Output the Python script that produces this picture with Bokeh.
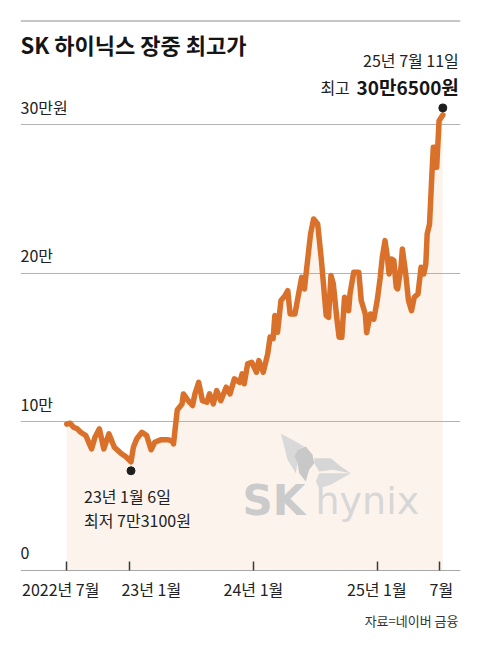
import pandas as pd
from bokeh.plotting import figure
from bokeh.models import (Range1d, FixedTicker, Label, Span, PolyAnnotation,
                          ColumnDataSource)
from bokeh.embed import file_html
from bokeh.resources import INLINE

# ---- data (price in 만원) ----
dates = [
    "2022-07-01", "2022-07-11", "2022-07-21", "2022-08-01", "2022-08-11", "2022-08-26",
    "2022-09-12", "2022-09-22", "2022-10-05", "2022-10-18", "2022-11-02", "2022-11-18",
    "2022-12-09", "2022-12-22", "2023-01-06", "2023-01-13", "2023-01-23", "2023-02-07",
    "2023-02-21", "2023-03-06", "2023-03-17", "2023-04-03", "2023-04-26", "2023-05-08",
    "2023-05-11", "2023-05-22", "2023-06-05", "2023-06-09", "2023-06-23", "2023-07-06",
    "2023-07-13", "2023-07-24", "2023-08-04", "2023-08-17", "2023-08-25", "2023-09-05",
    "2023-09-15", "2023-09-27", "2023-10-13", "2023-10-24", "2023-11-06", "2023-11-22",
    "2023-11-29", "2023-12-05", "2023-12-15", "2023-12-27", "2024-01-10", "2024-01-17",
    "2024-01-30", "2024-02-12", "2024-02-19", "2024-02-28", "2024-03-04", "2024-03-12",
    "2024-03-22", "2024-04-03", "2024-04-11", "2024-04-18", "2024-05-02", "2024-05-13",
    "2024-05-22", "2024-05-30", "2024-06-06", "2024-06-17", "2024-06-26", "2024-07-08",
    "2024-07-19", "2024-08-02", "2024-08-09", "2024-08-16", "2024-08-23", "2024-09-02",
    "2024-09-09", "2024-09-17", "2024-09-25", "2024-10-07", "2024-10-11", "2024-10-22",
    "2024-11-06", "2024-11-13", "2024-11-25", "2024-11-29", "2024-12-10", "2024-12-20",
    "2024-12-30", "2025-01-08", "2025-01-14", "2025-01-22", "2025-01-29", "2025-02-03",
    "2025-02-10", "2025-02-17", "2025-02-24", "2025-02-28", "2025-03-10", "2025-03-14",
    "2025-03-24", "2025-04-01", "2025-04-10", "2025-04-18", "2025-04-29", "2025-05-08",
    "2025-05-16", "2025-05-22", "2025-05-26", "2025-06-02", "2025-06-09", "2025-06-13",
    "2025-06-20", "2025-06-23", "2025-06-30", "2025-07-11",
]
values = [
    9.85, 9.91, 9.64, 9.53, 9.30, 9.08,
    8.18, 8.96, 9.53, 8.18, 9.19, 8.29,
    7.85, 7.65, 7.31, 8.29, 8.86, 9.30,
    9.08, 8.12, 8.63, 8.79, 8.79, 8.70,
    8.52, 10.80, 11.20, 11.88, 11.43, 11.10,
    11.88, 12.66, 11.43, 11.32, 11.88, 11.21,
    12.10, 11.43, 12.33, 11.88, 12.89, 12.66,
    13.23, 12.56, 13.90, 14.01, 13.34, 14.12,
    13.34, 14.57, 15.70, 15.60, 17.15, 16.03,
    18.16, 18.49, 18.83, 17.26, 17.26, 18.61,
    19.72, 18.94, 20.40, 22.64, 23.65, 23.31,
    20.85, 17.15, 17.03, 19.84, 19.28, 17.03,
    15.69, 15.69, 18.38, 17.48, 18.61, 20.06,
    20.06, 18.16, 17.26, 16.00, 17.26, 16.90,
    18.16, 19.72, 21.07, 22.19, 21.07, 19.95,
    20.96, 20.85, 19.05, 18.94, 20.40, 21.63,
    19.95, 18.16, 17.48, 18.38, 18.61, 20.40,
    19.95, 20.63, 22.64, 23.31, 26.68, 28.47,
    28.47, 27.12, 30.26, 30.65,
]
low_date = "2023-01-06"
low_value = 7.31
high_date = "2025-07-11"
high_value = 30.65

y_ticks = [0, 10, 20, 30]
y_tick_labels = ["0", "10만", "20만", "30만원"]
x_ticks = ["2022-07-01", "2023-01-01", "2024-01-01", "2025-01-01", "2025-07-01"]
x_tick_labels = ["2022년 7월", "23년 1월", "24년 1월", "25년 1월", "7월"]

title_text = "SK 하이닉스 장중 최고가"
high_date_text = "25년 7월 11일"
high_prefix_text = "최고"
high_value_text = "30만6500원"
low_date_text = "23년 1월 6일"
low_value_text = "최저 7만3100원"
source_text = "자료=네이버 금융"

# ---- styling ----
FONT = "Noto Sans CJK KR"
LINE_COLOR = "#D9712A"
TEXT = "#222222"
FRAME_W, FRAME_H = 440, 616   # frame spans page y 20..636
BOTTOM = 636                  # frame bottom in page pixels


def ms(d):
    return pd.Timestamp(d).value / 1e6


def sy(page_y):
    return BOTTOM - page_y


src = ColumnDataSource(data=dict(x=pd.to_datetime(dates), y=values,
                                 zero=[0] * len(values)))

Y_START, Y_END = -4.44, 37.0
p = figure(frame_width=FRAME_W, frame_height=FRAME_H, x_axis_type="datetime",
           x_range=Range1d(pd.Timestamp("2022-02-15"), pd.Timestamp("2025-09-01")),
           y_range=Range1d(Y_START, Y_END), y_axis_location=None,
           output_backend="svg", toolbar_location=None,
           min_border_left=20, min_border_right=20,
           min_border_top=20, min_border_bottom=10)
p.outline_line_color = None
p.background_fill_color = "white"
p.border_fill_color = "white"

# shifted ranges so that the marker dots float off the line ends
p.extra_y_ranges = {
    "hi": Range1d(Y_START - 0.47, Y_END - 0.47),
    "lo": Range1d(Y_START + 0.6, Y_END + 0.6),
}

# grid
p.xgrid.visible = False
p.ygrid.ticker = FixedTicker(ticks=[t for t in y_ticks if t > 0])
p.ygrid.grid_line_color = "#B4B4B4"
p.ygrid.grid_line_width = 1

# x axis drawn at value 0 (ticks only; labels drawn as text below it)
xa = p.xaxis[0]
xa.fixed_location = 0
xa.ticker = FixedTicker(ticks=[ms(d) for d in x_ticks])
xa.major_label_text_font_size = "1px"
xa.major_label_text_color = None
xa.major_label_standoff = 0
xa.axis_line_color = "#A8A8A8"
xa.axis_line_width = 1
xa.major_tick_in = 9
xa.major_tick_out = 0
xa.major_tick_line_color = "#3a3a3a"
xa.major_tick_line_width = 1.5
xa.minor_tick_line_color = None

# top rule
p.add_layout(Span(location=Y_END, dimension="width", line_color="#8E8E8E",
                  line_width=2))

# area
p.varea(x="x", y1="zero", y2="y", source=src, fill_color="#E9A577",
        fill_alpha=0.13)

# watermark logo
for xs, ys, col in [
    ([280.3, 292, 303.7, 297, 293.7, 297, 295.3, 287, 283.7],
     [433.3, 439.3, 446, 449.3, 456, 462.7, 472.7, 459.3, 446], "#D9D9D9"),
    ([297, 305.3, 312, 313.7, 308.7, 305.3, 298.7, 297, 293.7],
     [449.3, 446, 454.3, 462.7, 469.3, 481, 472.7, 462.7, 456], "#C8C8C8"),
    ([313.7, 330.3, 340.3, 350.3, 332, 318.7, 313.7],
     [457.7, 457.7, 466, 472.7, 469.3, 471, 462.7], "#D6D6D6"),
    ([318.7, 350.3, 330.3, 318.7, 315.3],
     [472.7, 472.7, 484.3, 487.7, 481], "#D9D9D9"),
]:
    p.add_layout(PolyAnnotation(xs=[x - 20 for x in xs], ys=[sy(y) for y in ys],
                                xs_units="screen", ys_units="screen",
                                fill_color=col, fill_alpha=1, line_color=None))
p.add_layout(Label(x=222, y=sy(500), x_units="screen", y_units="screen", text="SK",
                   text_font="DejaVu Sans", text_font_style="bold",
                   text_font_size="42px", text_color="#CBCBCB",
                   text_align="left", text_baseline="alphabetic"))
p.add_layout(Label(x=295, y=sy(500), x_units="screen", y_units="screen",
                   text="hynix", text_font="DejaVu Sans", text_font_size="38px",
                   text_color="#D7D7D7", text_align="left",
                   text_baseline="alphabetic"))

# line
p.line(x="x", y="y", source=src, line_color=LINE_COLOR, line_width=5.5,
       line_join="round", line_cap="round")

# marker dots
p.scatter(x=[pd.Timestamp(high_date)], y=[high_value], y_range_name="hi",
          size=8, color="#1E1E1E")
p.scatter(x=[pd.Timestamp(low_date)], y=[low_value], y_range_name="lo",
          size=8, color="#1E1E1E")

# y tick labels (inside, above grid lines)
for v, t in zip(y_ticks, y_tick_labels):
    p.add_layout(Label(x=0, y=v, x_units="screen", y_units="data", y_offset=18,
                       text=t, text_font=FONT, text_font_size="16px",
                       text_color=TEXT, text_align="left",
                       text_baseline="alphabetic"))

# x tick labels (below the axis line at 0)
x_label_offsets = [-6, 22, 0, -1, 2]
for d, t, off in zip(x_ticks, x_tick_labels, x_label_offsets):
    p.add_layout(Label(x=ms(d), y=0, x_offset=off, y_offset=-18, text=t,
                       text_font=FONT, text_font_size="16px", text_color=TEXT,
                       text_align="center", text_baseline="alphabetic"))

# title
p.add_layout(Label(x=0, y=sy(43), x_units="screen", y_units="screen",
                   text=title_text, text_font=FONT, text_font_size="22px",
                   text_font_style="bold", text_color="#151515",
                   text_align="left", text_baseline="alphabetic"))

# high annotation
hx = ms(high_date)
p.add_layout(Label(x=hx, y=high_value, x_offset=16, y_offset=55,
                   text=high_date_text, text_font=FONT, text_font_size="16px",
                   text_color=TEXT, text_align="right",
                   text_baseline="alphabetic"))
p.add_layout(Label(x=hx, y=high_value, x_offset=16, y_offset=28,
                   text=high_value_text, text_font=FONT, text_font_size="19px",
                   text_font_style="bold", text_color="#151515",
                   text_align="right", text_baseline="alphabetic"))
p.add_layout(Label(x=hx, y=high_value, x_offset=-93, y_offset=28,
                   text=high_prefix_text, text_font=FONT, text_font_size="16px",
                   text_color=TEXT, text_align="right",
                   text_baseline="alphabetic"))

# low annotation
lx = ms(low_date)
p.add_layout(Label(x=lx, y=low_value, x_offset=-47, y_offset=-34,
                   text=low_date_text, text_font=FONT, text_font_size="16px",
                   text_color=TEXT, text_align="left",
                   text_baseline="alphabetic"))
p.add_layout(Label(x=lx, y=low_value, x_offset=-47, y_offset=-58,
                   text=low_value_text, text_font=FONT, text_font_size="16px",
                   text_color=TEXT, text_align="left",
                   text_baseline="alphabetic"))

# source
p.add_layout(Label(x=438, y=sy(620), x_units="screen", y_units="screen",
                   text=source_text, text_font=FONT, text_font_size="13px",
                   text_color="#333333", text_align="right",
                   text_baseline="alphabetic"))

open("out.html", "w").write(file_html(p, INLINE))
